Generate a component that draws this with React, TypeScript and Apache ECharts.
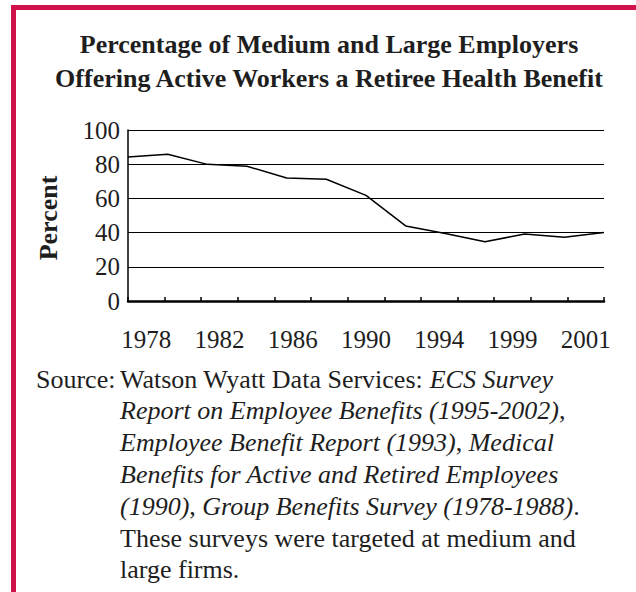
import React, { useEffect, useRef } from "react";
import * as echarts from "echarts";

const years = ["1978", "1980", "1982", "1984", "1986", "1988", "1990", "1992", "1994", "1997", "1999", "2000", "2001"];
const percentValues = [84.2, 85.8, 79.9, 78.8, 71.9, 71.2, 61.8, 43.9, 39.5, 34.6, 39.2, 37.3, 40.0];
const titleLines = [
  "Percentage of Medium and Large Employers",
  "Offering Active Workers a Retiree Health Benefit",
];
const sourceLines = [
  "{r|Watson Wyatt Data Services: }{i|ECS Survey}",
  "{i|Report on Employee Benefits (1995-2002)}{r|,}",
  "{i|Employee Benefit Report (1993)}{r|, }{i|Medical}",
  "{i|Benefits for Active and Retired Employees}",
  "{i|(1990)}{r|, }{i|Group Benefits Survey (1978-1988)}{r|.}",
  "{r|These surveys were targeted at medium and}",
  "{r|large firms.}",
];

const FONT = "'Liberation Serif', 'Times New Roman', serif";
const RED = "#d11149";
const INK = "#1e1e1e";

export default function App() {
  const ref = useRef<HTMLDivElement>(null);
  useEffect(() => {
    document.body.style.margin = "0";
    if (!ref.current) return;
    const chart = echarts.init(ref.current, null, { renderer: "svg" });
    const graphics: any[] = [
      { type: "rect", shape: { x: 11, y: 5, width: 625, height: 5 }, style: { fill: RED } },
      { type: "rect", shape: { x: 11, y: 5, width: 5, height: 587 }, style: { fill: RED } },
      ...titleLines.map((t, i) => ({
        type: "text",
        x: 329,
        y: 44 + i * 34,
        style: {
          text: t,
          font: `bold 26px ${FONT}`,
          fill: INK,
          align: "center",
          verticalAlign: "middle",
        },
      })),
      {
        type: "text",
        x: 48,
        y: 218,
        rotation: Math.PI / 2,
        style: {
          text: "Percent",
          font: `bold 26px ${FONT}`,
          fill: INK,
          align: "center",
          verticalAlign: "middle",
        },
      },
      {
        type: "text",
        x: 36,
        y: 379,
        style: {
          text: "Source:",
          font: `26px ${FONT}`,
          fill: INK,
          align: "left",
          verticalAlign: "middle",
        },
      },
      ...sourceLines.map((t, i) => ({
        type: "text",
        x: 120,
        y: 379 + i * 31.8,
        style: {
          text: t,
          fontFamily: FONT,
          fontSize: 26,
          fill: INK,
          align: "left",
          verticalAlign: "middle",
          rich: {
            r: { fontFamily: FONT, fontSize: 26, fontStyle: "normal", fill: INK },
            i: { fontFamily: FONT, fontSize: 26, fontStyle: "italic", fill: INK },
          },
        },
      })),
    ];
    chart.setOption({
      animation: false,
      grid: { left: 128, right: 32, top: 130, bottom: 291, containLabel: false },
      xAxis: [
        {
          type: "category",
          data: years,
          boundaryGap: true,
          axisLine: { show: true, lineStyle: { color: "#000", width: 2.5 } },
          axisTick: { show: true, inside: true, length: 4, interval: 0, lineStyle: { color: "#000", width: 1.5 } },
          axisLabel: {
            interval: (i: number) => i % 2 === 0,
            fontFamily: FONT,
            fontSize: 25,
            color: INK,
            margin: 26,
          },
          splitLine: { show: false },
        },
        {
          type: "category",
          data: years,
          boundaryGap: false,
          show: false,
        },
      ],
      yAxis: {
        type: "value",
        min: 0,
        max: 100,
        interval: 20,
        axisLine: { show: true, lineStyle: { color: "#000", width: 1.5 } },
        axisTick: { show: false },
        axisLabel: { fontFamily: FONT, fontSize: 25, color: INK, margin: 8 },
        splitLine: { show: true, lineStyle: { color: "#000", width: 1 } },
      },
      series: [
        {
          type: "line",
          xAxisIndex: 1,
          data: percentValues,
          showSymbol: false,
          symbol: "none",
          lineStyle: { color: "#000", width: 1.5 },
        },
      ],
      graphic: graphics,
    });
    return () => chart.dispose();
  }, []);
  return <div ref={ref} style={{ width: 636, height: 592 }} />;
}
